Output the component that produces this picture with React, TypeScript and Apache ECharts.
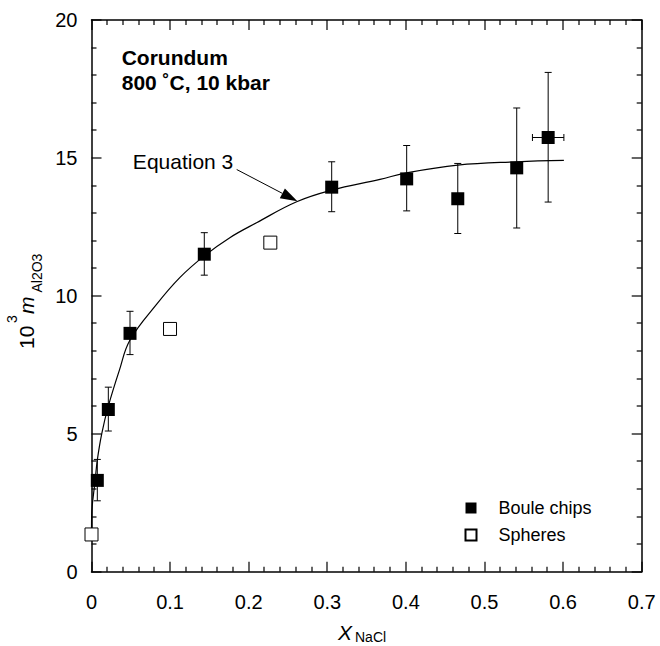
import React, { useEffect, useRef } from "react";
import * as echarts from "echarts";

const FONT = "'Liberation Sans', Arial, Helvetica, sans-serif";

// axis ticks
const xTickValues = [0, 0.1, 0.2, 0.3, 0.4, 0.5, 0.6, 0.7];
const xTickLabels = ["0", "0.1", "0.2", "0.3", "0.4", "0.5", "0.6", "0.7"];
const yTickValues = [0, 5, 10, 15, 20];
const yTickLabels = ["0", "5", "10", "15", "20"];
const minorSplits = 5;

// Boule chips (filled squares) with error bars
const bouleX = [0.0074, 0.0214, 0.049, 0.1435, 0.3056, 0.401, 0.466, 0.541, 0.581];
const bouleY = [3.31, 5.88, 8.64, 11.51, 13.94, 14.24, 13.52, 14.64, 15.74];
const bouleYLow = [2.57, 5.1, 7.87, 10.75, 13.05, 13.08, 12.26, 12.46, 13.4];
const bouleYHigh = [4.07, 6.69, 9.44, 12.29, 14.86, 15.45, 14.8, 16.81, 18.1];
const bouleXLow: (number | null)[] = [null, null, null, null, null, null, null, null, 0.561];
const bouleXHigh: (number | null)[] = [null, null, null, null, null, null, null, null, 0.601];

// Spheres (open squares)
const sphereX = [0.0, 0.0999, 0.2275];
const sphereY = [1.35, 8.8, 11.93];

// Equation 3 curve
const curveX = [0, 0.0003, 0.0046, 0.0074, 0.013, 0.0214, 0.0354, 0.049, 0.083, 0.1126, 0.1435, 0.176, 0.21, 0.261, 0.3056, 0.367, 0.401, 0.466, 0.541, 0.601];
const curveY = [1.5, 2.1, 3.3, 4.05, 5.0, 6.0, 7.3, 8.4, 9.7, 10.67, 11.45, 12.11, 12.65, 13.41, 13.83, 14.22, 14.46, 14.74, 14.86, 14.91];

// annotation anchors (data coordinates)
const eqLabelAnchor = [0.1804, 14.86];
const eqArrowFrom = [0.1847, 14.58];
const eqArrowTo = [0.262, 13.43];

// tick positions: [value, major (1) / minor (0)]
function buildTicks(values: number[]): number[][] {
  const out: number[][] = [];
  values.forEach((v, i) => {
    out.push([v, 1]);
    if (i < values.length - 1) {
      const step = (values[i + 1] - v) / minorSplits;
      for (let k = 1; k < minorSplits; k++) out.push([v + step * k, 0]);
    }
  });
  return out;
}

function axisLine() {
  return { show: true, onZero: false, lineStyle: { color: "#000", width: 1.5 } };
}

export default function App() {
  const ref = useRef<HTMLDivElement>(null);
  useEffect(() => {
    const chart = echarts.init(ref.current!, null, { renderer: "svg" });

    const xAxisDef = (pos: string, labels: boolean) => ({
      type: "value",
      position: pos,
      min: 0,
      max: 0.7,
      interval: 0.1,
      axisLine: axisLine(),
      axisTick: { show: false },
      splitLine: { show: false },
      axisLabel: labels
        ? {
            show: true,
            fontSize: 20,
            fontFamily: FONT,
            color: "#000",
            margin: 20,
            formatter: (v: number) => xTickLabels[xTickValues.findIndex((t) => Math.abs(t - v) < 1e-9)] ?? "",
          }
        : { show: false },
    });
    const yAxisDef = (pos: string, labels: boolean) => ({
      type: "value",
      position: pos,
      min: 0,
      max: 20,
      interval: 5,
      axisLine: axisLine(),
      axisTick: { show: false },
      splitLine: { show: false },
      axisLabel: labels
        ? {
            show: true,
            fontSize: 20,
            fontFamily: FONT,
            color: "#000",
            margin: 14,
            formatter: (v: number) => yTickLabels[yTickValues.findIndex((t) => Math.abs(t - v) < 1e-9)] ?? "",
          }
        : { show: false },
    });

    const errData = bouleX.map((x, i) => [
      x,
      bouleY[i],
      bouleYLow[i],
      bouleYHigh[i],
      bouleXLow[i] ?? x,
      bouleXHigh[i] ?? x,
    ]);

    const option: any = {
      animation: false,
      grid: { left: 91.5, right: 18.3, top: 20, bottom: 74.3 },
      legend: {
        data: ["Boule chips", "Spheres"],
        orient: "vertical",
        left: 459.5,
        top: 494,
        itemWidth: 11,
        itemHeight: 11,
        itemGap: 9,
        icon: "rect",
        selectedMode: false,
        textStyle: { fontSize: 18, fontFamily: FONT, color: "#000", padding: [0, 0, 0, 17] },
      },
      xAxis: [xAxisDef("bottom", true), xAxisDef("top", false)],
      yAxis: [yAxisDef("left", true), yAxisDef("right", false)],
      series: [
        {
          name: "Equation 3",
          type: "line",
          data: curveX.map((x, i) => [x, curveY[i]]),
          showSymbol: false,
          smooth: 0.4,
          lineStyle: { color: "#000", width: 1.2 },
          z: 1,
        },
        {
          name: "errors",
          type: "custom",
          data: errData,
          z: 2,
          renderItem: (params: any, api: any) => {
            const x = api.value(0);
            const y = api.value(1);
            const lo = api.value(2);
            const hi = api.value(3);
            const xl = api.value(4);
            const xh = api.value(5);
            const pLo = api.coord([x, lo]);
            const pHi = api.coord([x, hi]);
            const cap = 3.5;
            const style = { stroke: "#000", lineWidth: 1, fill: null };
            const children: any[] = [
              { type: "line", shape: { x1: pLo[0], y1: pLo[1], x2: pHi[0], y2: pHi[1] }, style },
              { type: "line", shape: { x1: pLo[0] - cap, y1: pLo[1], x2: pLo[0] + cap, y2: pLo[1] }, style },
              { type: "line", shape: { x1: pHi[0] - cap, y1: pHi[1], x2: pHi[0] + cap, y2: pHi[1] }, style },
            ];
            if (xh - xl > 0) {
              const pL = api.coord([xl, y]);
              const pH = api.coord([xh, y]);
              children.push(
                { type: "line", shape: { x1: pL[0], y1: pL[1], x2: pH[0], y2: pH[1] }, style },
                { type: "line", shape: { x1: pL[0], y1: pL[1] - cap, x2: pL[0], y2: pL[1] + cap }, style },
                { type: "line", shape: { x1: pH[0], y1: pH[1] - cap, x2: pH[0], y2: pH[1] + cap }, style }
              );
            }
            return { type: "group", children };
          },
        },
        {
          name: "Boule chips",
          type: "scatter",
          symbol: "rect",
          symbolSize: 13,
          data: bouleX.map((x, i) => [x, bouleY[i]]),
          itemStyle: { color: "#000", opacity: 1 },
          z: 3,
        },
        {
          name: "Spheres",
          type: "scatter",
          symbol: "rect",
          symbolSize: 13,
          data: sphereX.map((x, i) => [x, sphereY[i]]),
          itemStyle: { color: "#fff", borderColor: "#000", borderWidth: 1, opacity: 1 },
          z: 3,
        },
      ],
    };
    chart.setOption(option);

    const px = (d: number[]) => chart.convertToPixel({ seriesIndex: 2 }, d) as number[];

    // frame extents through the axes' scales
    const pMin = px([0, 0]);
    const pMax = px([0.7, 20]);
    const left = pMin[0];
    const bottom = pMin[1];
    const right = pMax[0];
    const top = pMax[1];

    const tickGraphics: any[] = [];
    const tickRect = (x: number, y: number, w: number, h: number) => ({
      type: "rect",
      z: 100,
      shape: { x, y, width: w, height: h },
      style: { fill: "#000" },
    });
    buildTicks(xTickValues).forEach(([v, major]) => {
      const len = major ? 10 : 5;
      const x = Math.round(px([v, 0])[0]);
      tickGraphics.push(tickRect(x - 0.6, bottom - len, 1.2, len), tickRect(x - 0.6, top, 1.2, len));
    });
    buildTicks(yTickValues).forEach(([v, major]) => {
      const len = major ? 10 : 5;
      const y = Math.round(px([0, v])[1]);
      tickGraphics.push(tickRect(left, y - 0.6, len, 1.2), tickRect(right - len, y - 0.6, len, 1.2));
    });

    const lab = px(eqLabelAnchor);
    const a0 = px(eqArrowFrom);
    const a1 = px(eqArrowTo);
    const dx = a1[0] - a0[0];
    const dy = a1[1] - a0[1];
    const len = Math.hypot(dx, dy);
    const ux = dx / len;
    const uy = dy / len;
    const headL = 17;
    const headW = 5.5;
    const bx = a1[0] - ux * headL;
    const by = a1[1] - uy * headL;

    const rot = Math.PI / 2;
    chart.setOption({
      graphic: [
        ...tickGraphics,
        {
          type: "text",
          x: 121.7,
          y: 57.5,
          style: { text: "Corundum", font: `bold 21px ${FONT}`, fill: "#000", align: "left", verticalAlign: "middle" },
        },
        {
          type: "text",
          x: 121.7,
          y: 82.5,
          style: { text: "800 ˚C, 10 kbar", font: `bold 21px ${FONT}`, fill: "#000", align: "left", verticalAlign: "middle" },
        },
        {
          type: "text",
          x: lab[0],
          y: lab[1],
          style: { text: "Equation 3", font: `21px ${FONT}`, fill: "#000", align: "right", verticalAlign: "middle" },
        },
        {
          type: "line",
          shape: { x1: a0[0], y1: a0[1], x2: bx, y2: by },
          style: { stroke: "#000", lineWidth: 1 },
        },
        {
          type: "polygon",
          shape: {
            points: [
              [a1[0], a1[1]],
              [bx - uy * headW, by + ux * headW],
              [bx + uy * headW, by - ux * headW],
            ],
          },
          style: { fill: "#000" },
        },
        // x axis title
        {
          type: "text",
          x: 338,
          y: 632,
          style: { text: "X", font: `italic 21px ${FONT}`, fill: "#000", align: "left", verticalAlign: "middle" },
        },
        {
          type: "text",
          x: 355,
          y: 637,
          style: { text: "NaCl", font: `14px ${FONT}`, fill: "#000", align: "left", verticalAlign: "middle" },
        },
        // y axis title (rotated)
        {
          type: "text",
          x: 26,
          y: 349,
          rotation: rot,
          style: { text: "10", font: `21px ${FONT}`, fill: "#000", align: "left", verticalAlign: "middle" },
        },
        {
          type: "text",
          x: 11.5,
          y: 323,
          rotation: rot,
          style: { text: "3", font: `14px ${FONT}`, fill: "#000", align: "left", verticalAlign: "middle" },
        },
        {
          type: "text",
          x: 26,
          y: 314,
          rotation: rot,
          style: { text: "m", font: `italic 21px ${FONT}`, fill: "#000", align: "left", verticalAlign: "middle" },
        },
        {
          type: "text",
          x: 37,
          y: 292.5,
          rotation: rot,
          style: { text: "Al2O3", font: `14px ${FONT}`, fill: "#000", align: "left", verticalAlign: "middle" },
        },
      ],
    });

    return () => chart.dispose();
  }, []);
  return (
    <div
      ref={ref}
      style={{ position: "absolute", left: 0, top: 0, width: 660, height: 646, background: "#fff" }}
    />
  );
}
